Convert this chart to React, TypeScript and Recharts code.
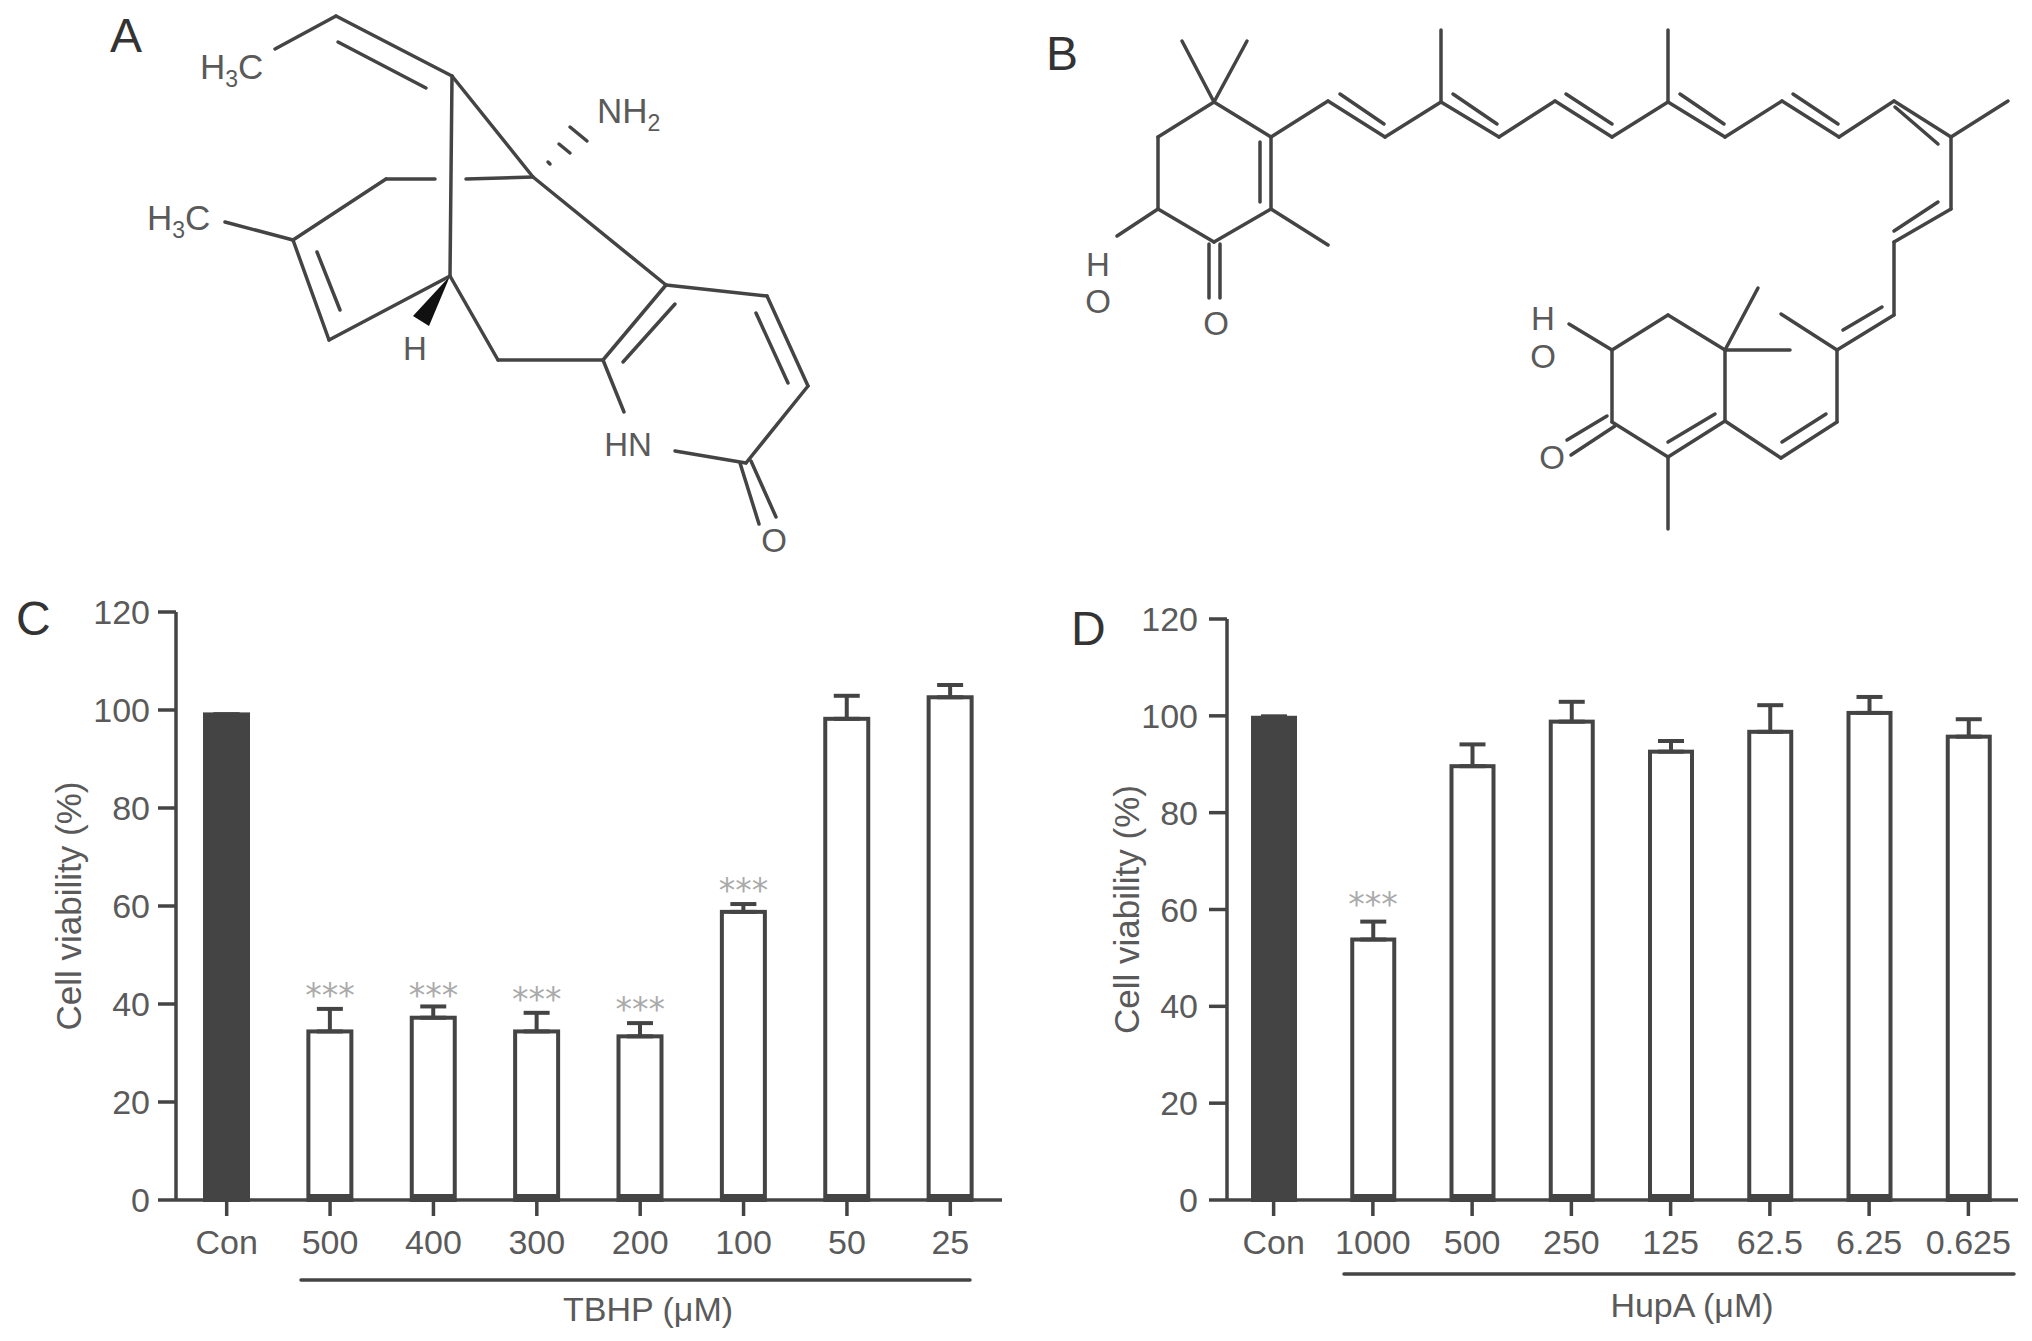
import {
  Bar,
  Cell,
  ComposedChart,
  ErrorBar,
  LabelList,
  Line,
  Scatter,
  ScatterChart,
  XAxis,
  YAxis,
} from 'recharts';

const INK = '#444444';
const TEXT = '#5a5a5a';
const FONT = '"Liberation Sans", Arial, sans-serif';

const yTicks = [0, 20, 40, 60, 80, 100, 120];

// panel C
const tbhpDoses = ['Con', '500', '400', '300', '200', '100', '50', '25'];
const tbhpMeans = [99.1, 34.4, 37.2, 34.4, 33.4, 58.8, 98.2, 102.6];
const tbhpErrors = [0, 4.6, 2.3, 3.8, 2.7, 1.6, 4.7, 2.5];
const tbhpStars = [null, 41.8, 41.8, 41, 38.9, 63.3, null, null];

// panel D
const hupaDoses = ['Con', '1000', '500', '250', '125', '62.5', '6.25', '0.625'];
const hupaMeans = [99.6, 53.8, 89.6, 98.8, 92.6, 96.7, 100.6, 95.7];
const hupaErrors = [0.3, 3.7, 4.5, 4.1, 2.2, 5.5, 3.3, 3.6];
const hupaStars = [null, 61, null, null, null, null, null, null];

const buildRows = (names: string[], means: number[], errors: number[], stars: (number | null)[]) =>
  names.map((name, i) => ({
    name,
    mean: means[i],
    err: [0, errors[i]],
    starY: stars[i],
    sig: stars[i] === null ? '' : '***',
  }));

// structure drawings, each bond is x1, y1, x2, y2 in picture pixels
const moleculeA = [
  [275, 49, 336, 16], [336, 16, 452, 76], [338, 42, 426, 88], [452, 76, 450, 276],
  [452, 76, 533, 177], [533, 177, 666, 285], [666, 285, 767, 296], [767, 296, 808, 386],
  [756, 313, 788, 383], [808, 386, 746, 463], [746, 463, 675, 451], [740, 463, 759, 524],
  [751, 461, 776, 517], [666, 285, 603, 360], [675, 304, 623, 362], [603, 360, 498, 360],
  [603, 360, 624, 412], [498, 360, 450, 276], [450, 276, 329, 340], [329, 340, 293, 240],
  [317, 252, 340, 310], [293, 240, 225, 222], [293, 240, 386, 179], [386, 179, 435, 179],
  [466, 179, 533, 177],
  // hashed bond to the amine
  [548, 162, 550, 164], [559, 144, 570, 153], [570, 127, 587, 141],
];

const moleculeB = [
  [1214, 102, 1182, 41], [1214, 102, 1247, 41], [1214, 102, 1271, 137], [1271, 137, 1271, 209],
  [1260, 142, 1260, 202], [1271, 209, 1214, 242], [1214, 242, 1158, 209], [1158, 209, 1158, 137],
  [1158, 137, 1214, 102], [1158, 209, 1117, 236], [1271, 209, 1328, 245], [1209, 244, 1209, 298],
  [1220, 244, 1220, 298], [1271, 137, 1328, 101], [1328, 101, 1385, 137], [1385, 137, 1441, 102],
  [1441, 102, 1499, 137], [1499, 137, 1555, 101], [1555, 101, 1612, 137], [1612, 137, 1668, 102],
  [1668, 102, 1725, 137], [1725, 137, 1782, 101], [1782, 101, 1839, 137], [1839, 137, 1894, 101],
  [1894, 101, 1951, 137], [1340, 94, 1384, 124], [1453, 94, 1497, 124], [1566, 94, 1612, 124],
  [1680, 94, 1724, 124], [1793, 94, 1838, 124], [1895, 107, 1938, 144], [1441, 102, 1441, 30],
  [1668, 102, 1668, 30], [1951, 137, 2008, 101], [1951, 137, 1951, 209], [1951, 209, 1894, 242],
  [1938, 202, 1894, 231], [1894, 242, 1894, 315], [1894, 315, 1837, 350], [1882, 307, 1843, 330],
  [1837, 350, 1781, 314], [1837, 350, 1837, 422], [1837, 422, 1781, 458], [1826, 414, 1782, 442],
  [1781, 458, 1725, 421], [1725, 421, 1725, 350], [1725, 350, 1758, 288], [1725, 350, 1790, 350],
  [1725, 350, 1668, 315], [1668, 315, 1612, 350], [1612, 350, 1569, 324], [1612, 350, 1612, 422],
  [1612, 422, 1668, 457], [1668, 457, 1725, 421], [1668, 442, 1715, 414], [1668, 457, 1668, 529],
  [1607, 416, 1567, 440], [1615, 426, 1571, 455],
];

const brackets = [
  [301, 1280, 970, 1280],
  [1344, 1274, 2014, 1274],
];

const panelLetters = [
  { text: 'A', x: 110, y: 52 },
  { text: 'B', x: 1046, y: 70 },
  { text: 'C', x: 16, y: 635 },
  { text: 'D', x: 1071, y: 645 },
];

const atomLabels = [
  { text: 'H', x: 415, y: 360 },
  { text: 'HN', x: 628, y: 456 },
  { text: 'O', x: 774, y: 552 },
  { text: 'H', x: 1098, y: 276 },
  { text: 'O', x: 1098, y: 313 },
  { text: 'O', x: 1216, y: 335 },
  { text: 'H', x: 1543, y: 330 },
  { text: 'O', x: 1543, y: 368 },
  { text: 'O', x: 1552, y: 469 },
];

const subLabels = [
  { head: 'H', sub: '3', tail: 'C', x: 200, y: 79 },
  { head: 'H', sub: '3', tail: 'C', x: 147, y: 230 },
  { head: 'NH', sub: '2', tail: '', x: 597, y: 123 },
];

const doseTitles = [
  { text: 'TBHP (\u03bcM)', x: 648, y: 1321 },
  { text: 'HupA (\u03bcM)', x: 1692, y: 1317 },
];

const BarWithBase = (props: any) => {
  const { x, y, width, height, fill } = props;
  return (
    <g>
      <rect x={x} y={y} width={width} height={height} fill={fill} stroke={INK} strokeWidth={4} />
      <rect x={x} y={y + height - 6} width={width} height={6} fill={INK} />
    </g>
  );
};

type PanelProps = {
  rows: ReturnType<typeof buildRows>;
  left: number;
  top: number;
  width: number;
  height: number;
  axisWidth: number;
  marginTop: number;
  marginRight: number;
  barSize: number;
  labelShift: number;
  tickGap: number;
  bandShift: number;
};

function Panel({ rows, left, top, width, height, axisWidth, marginTop, marginRight, barSize, labelShift, tickGap, bandShift }: PanelProps) {
  const tickStyle = { fontSize: 34, fill: TEXT, fontFamily: FONT };
  const axisLine = { stroke: INK, strokeWidth: 3.5 };
  return (
    <div style={{ position: 'absolute', left, top, width, height }}>
      <ComposedChart
        width={width}
        height={height}
        data={rows}
        margin={{ top: marginTop, right: marginRight, bottom: 81, left: 0 }}
      >
        <XAxis
          dataKey="name"
          interval={0}
          height={60}
          padding={{ left: bandShift, right: 0 }}
          tick={tickStyle}
          tickSize={16}
          tickMargin={14}
          axisLine={axisLine}
          tickLine={axisLine}
        />
        <YAxis
          type="number"
          domain={[0, 120]}
          ticks={yTicks}
          interval={0}
          width={axisWidth}
          tick={tickStyle}
          tickSize={18}
          tickMargin={tickGap}
          axisLine={axisLine}
          tickLine={axisLine}
          label={{
            value: 'Cell viability (%)',
            angle: -90,
            position: 'center',
            dx: labelShift,
            style: { fontSize: 35, fill: TEXT, fontFamily: FONT },
          }}
        />
        <Bar dataKey="mean" barSize={barSize} shape={BarWithBase} isAnimationActive={false}>
          {rows.map((r, i) => (
            <Cell key={r.name} fill={i === 0 ? INK : '#ffffff'} />
          ))}
          <ErrorBar dataKey="err" direction="y" width={13} stroke={INK} strokeWidth={4} isAnimationActive={false} />
        </Bar>
        <Line dataKey="starY" stroke="none" dot={false} legendType="none" isAnimationActive={false}>
          <LabelList
            dataKey="sig"
            position="center"
            style={{ fontSize: 33, fill: '#aaaaaa', fontFamily: '"DejaVu Sans"' }}
          />
        </Line>
      </ComposedChart>
    </div>
  );
}

const NoDot = () => <g />;

function Annotations() {
  const bond = (b: number[], key: string) => (
    <Scatter
      key={key}
      data={[
        { x: b[0], y: b[1] },
        { x: b[2], y: b[3] },
      ]}
      shape={NoDot}
      line={{ stroke: INK, strokeWidth: 3.5, strokeLinecap: 'round' }}
      isAnimationActive={false}
    />
  );
  return (
    <div style={{ position: 'absolute', left: 0, top: 0, width: 2032, height: 1341, pointerEvents: 'none' }}>
      <ScatterChart width={2032} height={1341} margin={{ top: 0, right: 0, bottom: 0, left: 0 }}>
        <XAxis type="number" dataKey="x" domain={[0, 2032]} hide />
        <YAxis type="number" dataKey="y" domain={[0, 1341]} reversed hide />
        {moleculeA.map((b, i) => bond(b, `a${i}`))}
        {moleculeB.map((b, i) => bond(b, `b${i}`))}
        {brackets.map((b, i) => bond(b, `r${i}`))}
        <polygon points="450,276 413,316 429,326" fill="#111111" />
        {panelLetters.map((l) => (
          <text key={l.text} x={l.x} y={l.y} fontSize={48} fill="#333333" fontFamily={FONT}>
            {l.text}
          </text>
        ))}
        {atomLabels.map((l, i) => (
          <text key={i} x={l.x} y={l.y} fontSize={33} fill={TEXT} fontFamily={FONT} textAnchor="middle">
            {l.text}
          </text>
        ))}
        {subLabels.map((l, i) => (
          <text key={i} x={l.x} y={l.y} fontSize={35} fill={TEXT} fontFamily={FONT}>
            {l.head}
            <tspan fontSize={23} dy={8}>
              {l.sub}
            </tspan>
            {l.tail ? <tspan dy={-8}>{l.tail}</tspan> : null}
          </text>
        ))}
        {doseTitles.map((l) => (
          <text key={l.text} x={l.x} y={l.y} fontSize={34} fill={TEXT} fontFamily={FONT} textAnchor="middle">
            {l.text}
          </text>
        ))}
      </ScatterChart>
    </div>
  );
}

export default function App() {
  return (
    <div style={{ position: 'absolute', left: 0, top: 0, width: 2032, height: 1341, background: '#ffffff', overflow: 'hidden' }}>
      <Panel
        rows={buildRows(tbhpDoses, tbhpMeans, tbhpErrors, tbhpStars)}
        left={0}
        top={570}
        width={1020}
        height={771}
        axisWidth={176}
        marginTop={42}
        marginRight={18}
        barSize={43}
        labelShift={-19}
        tickGap={8}
        bandShift={-1}
      />
      <Panel
        rows={buildRows(hupaDoses, hupaMeans, hupaErrors, hupaStars)}
        left={1040}
        top={570}
        width={992}
        height={771}
        axisWidth={187}
        marginTop={49}
        marginRight={14}
        barSize={42}
        labelShift={-7}
        tickGap={11}
        bandShift={-3}
      />
      <Annotations />
    </div>
  );
}
